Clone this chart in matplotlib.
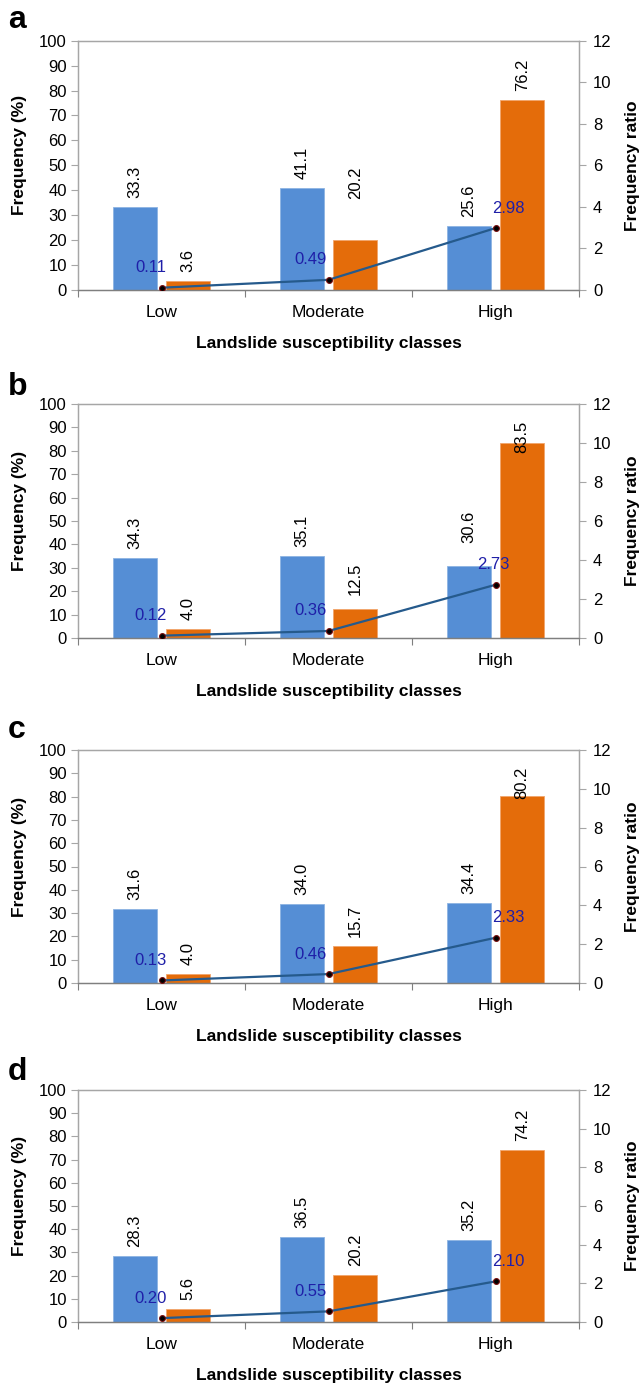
import numpy as np
import matplotlib
matplotlib.use('Agg')
from matplotlib import pyplot as plt

plt.rcParams['font.family'] = ['Liberation Sans', 'DejaVu Sans']

classes = ['Low', 'Moderate', 'High']
panels = ['a', 'b', 'c', 'd']

# class pixels (%) / landslide pixels (%) / frequency ratio per panel
class_pct = [[33.3, 41.1, 25.6],
             [34.3, 35.1, 30.6],
             [31.6, 34.0, 34.4],
             [28.3, 36.5, 35.2]]
slide_pct = [[3.6, 20.2, 76.2],
             [4.0, 12.5, 83.5],
             [4.0, 15.7, 80.2],
             [5.6, 20.2, 74.2]]
fr = [[0.11, 0.49, 2.98],
      [0.12, 0.36, 2.73],
      [0.13, 0.46, 2.33],
      [0.20, 0.55, 2.10]]

c_blue = '#558ED5'
c_orange = '#E46C0A'
c_line = '#255A8C'
c_frtxt = '#1F1FA8'
c_grid = '#A6A6A6'

W, H = 641, 1385
fig = plt.figure(figsize=(W / 100, H / 100), dpi=100)

# axes boxes in pixels: (top, bottom)
boxes = [(40.7, 290), (404, 638), (750, 983), (1090, 1322)]
letter_base = [28, 395, 738, 1080]
x_left, x_right = 78, 579

# a few labels were nudged by hand in the original (extra pixels up)
nudge = {(0, 1, 1): 32, (1, 2, 0): 14, (1, 1, 1): 5}
fr_dx = [-11, -18, 13]

x = np.arange(len(classes))
bw = 0.265
off = 0.16

for i in range(4):
    top, bot = boxes[i]
    ax = fig.add_axes([x_left / W, 1 - bot / H, (x_right - x_left) / W, (bot - top) / H])
    ax2 = ax.twinx()

    ax.bar(x - off, class_pct[i], bw, color=c_blue, edgecolor='#8DB4E2', linewidth=0.6)
    ax.bar(x + off, slide_pct[i], bw, color=c_orange, edgecolor='#F2A56B', linewidth=0.6)

    for s, vals in enumerate([class_pct[i], slide_pct[i]]):
        for j, v in enumerate(vals):
            xx = x[j] + (off if s else -off)
            extra = nudge.get((i, j, s), 0)
            if v > 78:
                # no room above the bar, label drops over the bar top
                ax.annotate('%.1f' % v, (xx, 79), xytext=(0, 0), textcoords='offset pixels',
                            rotation=90, ha='center', va='bottom', fontsize=12)
            else:
                ax.annotate('%.1f' % v, (xx, v), xytext=(0, 9 + extra), textcoords='offset pixels',
                            rotation=90, ha='center', va='bottom', fontsize=12)

    ax2.plot(x, fr[i], color=c_line, lw=1.6, marker='o', ms=4.2,
             mfc='black', mec='#7A1010', mew=0.8, zorder=5)
    for j, v in enumerate(fr[i]):
        dx = fr_dx[j]
        if i == 1 and j == 2:
            dx = -2
        ax2.annotate('%.2f' % v, (x[j], v), xytext=(dx, 20), textcoords='offset pixels',
                     ha='center', va='center', fontsize=12, color=c_frtxt)

    ax.set_xlim(-0.5, 2.5)
    ax.set_ylim(0, 100)
    ax.set_yticks(np.arange(0, 101, 10))
    ax2.set_ylim(0, 12)
    ax2.set_yticks(np.arange(0, 13, 2))

    ax.set_xticks([-0.5, 0.5, 1.5, 2.5])
    ax.set_xticklabels([])
    ax.set_xticks(x, minor=True)
    ax.set_xticklabels(classes, minor=True, fontsize=12.5)
    ax.tick_params(axis='x', which='minor', length=0, pad=10.5)
    ax.tick_params(axis='x', which='major', length=5, color='#7F7F7F', direction='out')
    ax.tick_params(axis='y', length=5, color=c_grid, labelsize=12, pad=3, direction='out')
    ax2.tick_params(axis='y', length=5, color=c_grid, labelsize=12, pad=5, direction='out')

    for a in (ax, ax2):
        for sp in a.spines.values():
            sp.set_color(c_grid)
            sp.set_linewidth(0.9)
        a.spines['bottom'].set_color('#7F7F7F')

    ax.set_ylabel('Frequency (%)', fontsize=12.5, fontweight='bold', labelpad=9)
    ax.yaxis.label.set_y(0.5 + 10 / (bot - top))
    ax2.set_ylabel('Frequency ratio', fontsize=12.5, fontweight='bold', labelpad=10)
    ax.set_xlabel('Landslide susceptibility classes', fontsize=12.5, fontweight='bold', labelpad=11.5)

    fig.text(8 / W, 1 - letter_base[i] / H, panels[i], fontsize=23, fontweight='bold',
             ha='left', va='baseline')

fig.savefig('out.png', dpi=100)
